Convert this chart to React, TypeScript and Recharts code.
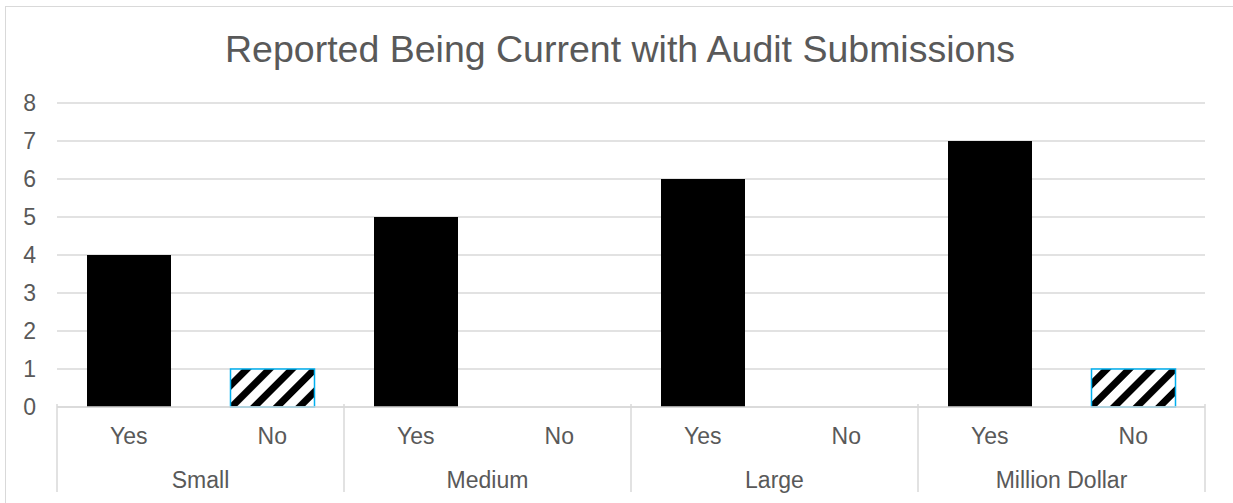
import { BarChart, Bar, XAxis, YAxis, CartesianGrid, Cell } from 'recharts'

const groups = ['Small', 'Medium', 'Large', 'Million Dollar']
const answers = ['Yes', 'No']
const yesCounts = [4, 5, 6, 7]
const noCounts = [1, 0, 0, 1]
const yTicks = [0, 1, 2, 3, 4, 5, 6, 7, 8]

const data = groups.flatMap((g, i) => [
  { key: `${g}-Yes`, group: g, answer: answers[0], value: yesCounts[i] },
  { key: `${g}-No`, group: g, answer: answers[1], value: noCounts[i] },
])

const TEXT = '#595959'
const GRID = '#d9d9d9'
const FONT = '"Liberation Sans", Arial, sans-serif'
const BAND = 143.5

function CategoryTick(props: any) {
  const { x, y, payload, index } = props
  const row = data[index] ?? data[payload.index]
  const top = y - 11
  return (
    <g>
      <text x={x} y={y + 29} textAnchor="middle" fill={TEXT} fontSize={23} fontFamily={FONT}>
        {row?.answer ?? payload.value}
      </text>
      {index % 2 === 0 && (
        <>
          <text x={x + BAND / 2} y={y + 73} textAnchor="middle" fill={TEXT} fontSize={23} fontFamily={FONT}>
            {row?.group}
          </text>
          <line x1={x - BAND / 2} x2={x - BAND / 2} y1={top} y2={top + 88} stroke={GRID} strokeWidth={1.5} />
        </>
      )}
      {index === data.length - 1 && (
        <line x1={x + BAND / 2} x2={x + BAND / 2} y1={top} y2={top + 88} stroke={GRID} strokeWidth={1.5} />
      )}
    </g>
  )
}

function ValueTick(props: any) {
  const { x, y, payload } = props
  return (
    <text x={x} y={y} dy="0.36em" textAnchor="end" fill={TEXT} fontSize={23} fontFamily={FONT}>
      {payload.value}
    </text>
  )
}

export default function App() {
  return (
    <div style={{ position: 'relative', width: 1233, height: 503, overflow: 'hidden', background: '#fff' }}>
      <style>{'body{margin:0;overflow:hidden}'}</style>
      <div
        style={{
          position: 'absolute', left: 5, top: 6, width: 1250, height: 520,
          border: `1.5px solid ${GRID}`, boxSizing: 'border-box',
        }}
      />
      <div
        style={{
          position: 'absolute', left: 0, width: 1240, top: 31, textAlign: 'center',
          fontFamily: FONT, fontSize: 37.5, lineHeight: '37px', color: TEXT,
        }}
      >
        Reported Being Current with Audit Submissions
      </div>
      <BarChart
        width={1233}
        height={503}
        data={data}
        margin={{ top: 103, right: 28, bottom: 6, left: 7 }}
        style={{ position: 'absolute', left: 0, top: 0 }}
      >
        <defs>
          <pattern id="hatch" patternUnits="userSpaceOnUse" width={16} height={16} patternTransform="rotate(45)">
            <rect width={16} height={16} fill="#fff" />
            <rect width={7} height={16} fill="#000" />
          </pattern>
        </defs>
        <CartesianGrid vertical={false} stroke={GRID} strokeWidth={1.5} />
        <XAxis
          dataKey="key"
          height={90}
          interval={0}
          tickLine={false}
          axisLine={{ stroke: GRID, strokeWidth: 1.5 }}
          tick={<CategoryTick />}
        />
        <YAxis
          width={50}
          domain={[0, 8]}
          ticks={yTicks}
          interval={0}
          tickLine={false}
          axisLine={false}
          tickMargin={15}
          tick={<ValueTick />}
        />
        <Bar dataKey="value" barSize={84} isAnimationActive={false}>
          {data.map((d) => (
            <Cell
              key={d.key}
              fill={d.answer === 'Yes' ? '#000' : 'url(#hatch)'}
              stroke={d.answer === 'Yes' ? 'none' : '#00B0F0'}
              strokeWidth={d.answer === 'Yes' ? 0 : 1.5}
            />
          ))}
        </Bar>
      </BarChart>
    </div>
  )
}
